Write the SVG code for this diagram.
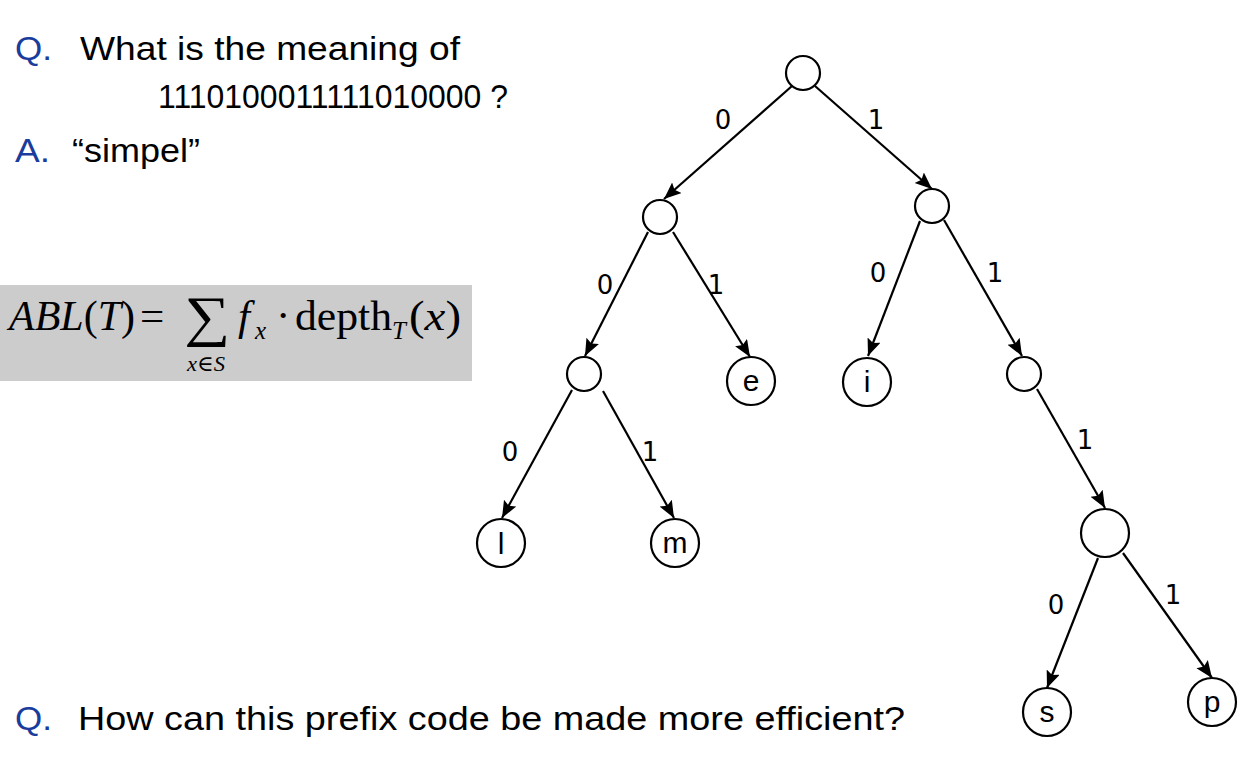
<svg xmlns="http://www.w3.org/2000/svg" width="1255" height="783" viewBox="0 0 1255 783">
<style>
.txt{font-family:"Liberation Sans","DejaVu Sans",sans-serif;font-size:34px;fill:#000}
.qa{font-family:"Liberation Sans","DejaVu Sans",sans-serif;font-size:34px;fill:#1a3c9c}
.node{fill:#fff;stroke:#000;stroke-width:2.2}
.edge{stroke:#000;stroke-width:2.2;fill:none;marker-end:url(#arr)}
.lbl{font-family:"DejaVu Sans","Liberation Sans",sans-serif;font-size:26px;fill:#000;text-anchor:middle}
.nl{font-family:"Liberation Sans","DejaVu Sans",sans-serif;font-size:30px;fill:#000;text-anchor:middle}
.m{font-family:"Liberation Serif","DejaVu Serif",serif;fill:#000}
.i{font-style:italic}
</style>
<defs>
<marker id="arr" markerUnits="userSpaceOnUse" markerWidth="18" markerHeight="16" refX="17" refY="7" orient="auto">
<path d="M0,0 L17,7 L0,14 L3,7 z" fill="#000"/>
</marker>
</defs>
<rect width="1255" height="783" fill="#fff"/>

<g id="question1">
<text class="qa" x="15" y="60" textLength="37" lengthAdjust="spacingAndGlyphs">Q.</text>
<text class="txt" x="80" y="60" textLength="380" lengthAdjust="spacingAndGlyphs">What is the meaning of</text>
<text class="txt" x="158" y="108" font-size="35" textLength="350" lengthAdjust="spacingAndGlyphs">1110100011111010000 ?</text>
</g>
<g id="answer1">
<text class="qa" x="15" y="162" textLength="35" lengthAdjust="spacingAndGlyphs">A.</text>
<text class="txt" x="72" y="162" textLength="128" lengthAdjust="spacingAndGlyphs">“simpel”</text>
</g>

<g id="formula">
<rect x="0" y="285" width="472" height="96" fill="#cccccc"/>
<text class="m" x="9" y="330" font-size="43" textLength="126" lengthAdjust="spacingAndGlyphs"><tspan class="i">ABL</tspan>(<tspan class="i">T</tspan>)</text>
<text class="m" x="140" y="330" font-size="43">=</text>
<text class="m" x="184" y="335" font-size="56" textLength="46" lengthAdjust="spacingAndGlyphs">∑</text>
<text class="m" x="187" y="371" font-size="22" textLength="38" lengthAdjust="spacingAndGlyphs"><tspan class="i">x</tspan>∈<tspan class="i">S</tspan></text>
<text class="m i" x="238" y="330" font-size="43">f</text>
<text class="m i" x="255" y="339" font-size="25">x</text>
<text class="m" x="276" y="330" font-size="43">·</text>
<text class="m" x="295" y="330" font-size="43" textLength="97" lengthAdjust="spacingAndGlyphs">depth</text>
<text class="m i" x="392" y="339" font-size="25">T</text>
<text class="m" x="409" y="330" font-size="43" textLength="52" lengthAdjust="spacingAndGlyphs">(<tspan class="i">x</tspan>)</text>
</g>

<g id="connectors">
<line class="edge" x1="792" y1="86" x2="664" y2="199"/>
<line class="edge" x1="815" y1="86" x2="932" y2="189"/>
<line class="edge" x1="648" y1="232" x2="585" y2="356"/>
<line class="edge" x1="673" y1="232" x2="750" y2="357"/>
<line class="edge" x1="920" y1="221" x2="868" y2="356"/>
<line class="edge" x1="944" y1="220" x2="1022" y2="356"/>
<line class="edge" x1="572" y1="390" x2="502" y2="518"/>
<line class="edge" x1="603" y1="391" x2="674" y2="518"/>
<line class="edge" x1="1037" y1="389" x2="1105" y2="508"/>
<line class="edge" x1="1098" y1="558" x2="1047" y2="688"/>
<line class="edge" x1="1123" y1="553" x2="1212" y2="678"/>
<text class="lbl" x="723" y="129">0</text>
<text class="lbl" x="876" y="129">1</text>
<text class="lbl" x="605" y="294">0</text>
<text class="lbl" x="716" y="294">1</text>
<text class="lbl" x="878" y="282">0</text>
<text class="lbl" x="995" y="282">1</text>
<text class="lbl" x="510" y="461">0</text>
<text class="lbl" x="650" y="461">1</text>
<text class="lbl" x="1085" y="449">1</text>
<text class="lbl" x="1056" y="614">0</text>
<text class="lbl" x="1173" y="604">1</text>
</g>

<g id="root"><circle class="node" cx="803" cy="73" r="17"/></g>
<g id="n0"><circle class="node" cx="660" cy="217" r="17"/></g>
<g id="n1"><circle class="node" cx="932" cy="206" r="17"/></g>
<g id="n00"><circle class="node" cx="584" cy="374" r="17"/></g>
<g id="leaf-e"><circle class="node" cx="751" cy="381" r="24"/><text class="nl" x="751" y="391">e</text></g>
<g id="leaf-i"><circle class="node" cx="867" cy="382" r="24"/><text class="nl" x="867" y="392">i</text></g>
<g id="n11"><circle class="node" cx="1024" cy="374" r="17"/></g>
<g id="leaf-l"><circle class="node" cx="501" cy="543" r="24"/><text class="nl" x="501" y="554">l</text></g>
<g id="leaf-m"><circle class="node" cx="675" cy="543" r="24"/><text class="nl" x="675" y="553">m</text></g>
<g id="n111"><circle class="node" cx="1105" cy="533" r="24"/></g>
<g id="leaf-s"><circle class="node" cx="1047" cy="712" r="24"/><text class="nl" x="1047" y="722">s</text></g>
<g id="leaf-p"><circle class="node" cx="1212" cy="702" r="24"/><text class="nl" x="1212" y="712">p</text></g>

<g id="question2">
<text class="qa" x="15" y="730" textLength="37" lengthAdjust="spacingAndGlyphs">Q.</text>
<text class="txt" x="78" y="730" textLength="827" lengthAdjust="spacingAndGlyphs">How can this prefix code be made more efficient?</text>
</g>
</svg>
